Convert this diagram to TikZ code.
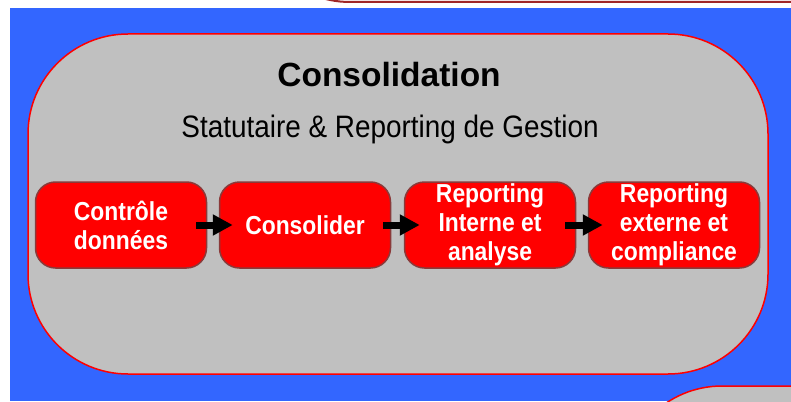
\documentclass[tikz,border=0pt]{standalone}
\usepackage{fontspec}
\setmainfont{Liberation Sans}
\newfontfamily\narrowfont[FakeStretch=0.88]{Liberation Sans}
\newfontfamily\subfont[FakeStretch=0.9]{Liberation Sans}
\usetikzlibrary{arrows.meta}
\definecolor{bgblue}{HTML}{3366FF}
\definecolor{panelgray}{HTML}{C0C0C0}
\definecolor{boxred}{HTML}{FF0000}
\definecolor{darkred}{HTML}{A02828}
\definecolor{boxedge}{HTML}{8A3A3A}
\begin{document}
\begin{tikzpicture}[x=1pt,y=-1pt,
  stepbox/.style={fill=boxred, draw=boxedge, line width=1.5pt, rounded corners=20pt,
    minimum width=171pt, minimum height=86pt, text=white, align=center,
    font=\narrowfont\fontsize{26}{29}\selectfont\bfseries, inner sep=0pt},
  flow/.style={line width=7pt, black, -{Triangle[length=20pt,width=20pt]}},
  panel/.style={draw=red, line width=1.5pt, fill=panelgray, rounded corners=100pt}
  ]
\useasboundingbox (0,0) rectangle (791,401);
\fill[white] (0,0) rectangle (791,401);
\fill[bgblue] (10,8) rectangle (791,401);
\begin{scope}
  \clip (0,0) rectangle (791,401);
  \draw[darkred, line width=2pt, fill=white, rounded corners=100pt] (250,-250) rectangle (950,2);
  \draw[panel] (622,386) rectangle (1100,700);
\end{scope}
\draw[panel] (28,34) rectangle (768,374);
\node[anchor=base, font=\fontsize{33.5}{40}\selectfont\bfseries] (title) at (389,87) {Consolidation};
\node[anchor=base, font=\subfont\fontsize{31}{36}\selectfont] (sub) at (390,137) {Statutaire \& Reporting de Gestion};
\node[stepbox] (b1) at (121,225) {Contrôle\\données};
\node[stepbox] (b2) at (305,225) {Consolider};
\node[stepbox] (b3) at (490,225) {Reporting\\Interne et\\analyse};
\node[stepbox] (b4) at (674,225) {Reporting\\externe et\\compliance};
\draw[flow] ([xshift=-11pt]b1.east) -- ([xshift=14pt]b2.west);
\draw[flow] ([xshift=-8pt]b2.east) -- ([xshift=16pt]b3.west);
\draw[flow] ([xshift=-11pt]b3.east) -- ([xshift=15pt]b4.west);
\end{tikzpicture}
\end{document}
